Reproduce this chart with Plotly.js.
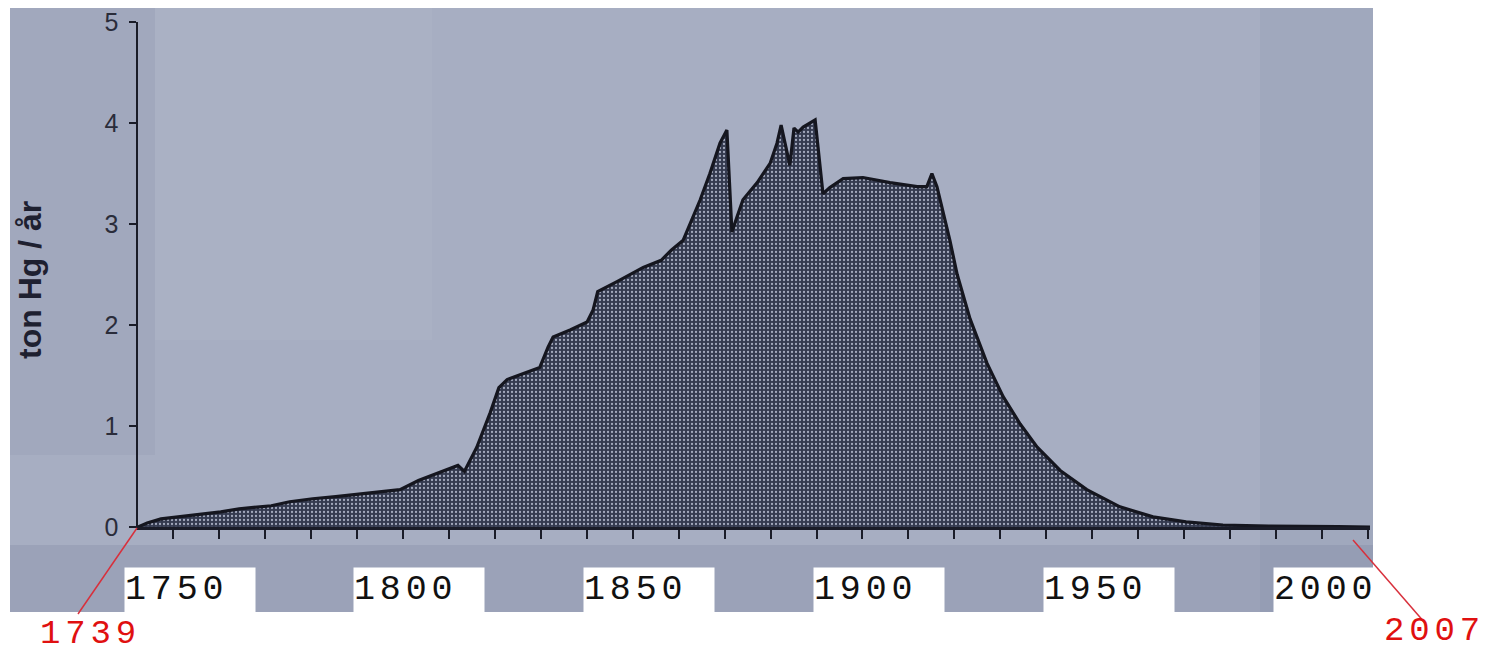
<!DOCTYPE html>
<html>
<head>
<meta charset="utf-8">
<script src="https://cdn.plot.ly/plotly-3.0.1.min.js"></script>
<style>
html,body{margin:0;padding:0;background:#ffffff;}
#chart{width:1493px;height:654px;}
</style>
</head>
<body>
<div id="chart"></div>
<script>
// ---- data ----
const years = [1739, 1741, 1744, 1748, 1752, 1757, 1761, 1765, 1768, 1772, 1777, 1782, 1788, 1792, 1796,
  1800, 1804.7, 1808.6, 1810, 1812.7, 1815.6, 1817.5, 1819.3, 1823, 1826.4, 1828.2, 1829.3, 1833, 1836.7,
  1838, 1839, 1843.2, 1848.9, 1852.8, 1855, 1857.6, 1859.1, 1861.3, 1863.4, 1865.6, 1867.1, 1868.2,
  1869.3, 1870.6, 1873.7, 1876.5, 1878, 1878.9, 1880.8, 1881.7, 1882.6, 1883.7, 1886.3, 1888, 1889.5,
  1892.4, 1896.7, 1898.9, 1902.6, 1908.5, 1910.6, 1911.7, 1912.8, 1915.6, 1917.2, 1920, 1923.7, 1927.2,
  1930.9, 1934.6, 1939.6, 1945.4, 1952.6, 1959.8, 1967, 1975, 1985, 2000, 2007];
const tonHg = [0, 0.04, 0.08, 0.10, 0.12, 0.15, 0.18, 0.20, 0.21, 0.25, 0.28, 0.30, 0.33, 0.35, 0.37,
  0.46, 0.54, 0.61, 0.55, 0.79, 1.13, 1.38, 1.46, 1.52, 1.58, 1.78, 1.88, 1.95, 2.03,
  2.15, 2.33, 2.43, 2.57, 2.64, 2.74, 2.84, 3.01, 3.24, 3.50, 3.80, 3.93, 2.92,
  3.07, 3.24, 3.41, 3.60, 3.80, 3.98, 3.58, 3.95, 3.91, 3.96, 4.03, 3.30, 3.36,
  3.45, 3.46, 3.44, 3.41, 3.37, 3.37, 3.50, 3.37, 2.84, 2.50, 2.06, 1.62, 1.29,
  1.02, 0.79, 0.56, 0.37, 0.20, 0.10, 0.05, 0.02, 0.01, 0.005, 0];
const yTickVals = [0, 1, 2, 3, 4, 5];
const yTickText = ['0', '1', '2', '3', '4', '5'];
const decadeLabels = ['1750', '1800', '1850', '1900', '1950', '2000'];
const startYear = 1739;
const endYear = 2007;
const yTitle = 'ton Hg / år';

// ---- styling ----
const L = 138, W = 1232, T = 22, H = 505;
const px2x = p => (p - L) / W;
const py2y = p => (T + H - p) / H;
const pxPerYear = W / (endYear - startYear);
const sheetRight = 1373;
const spaced = s => s.split('').join('<span style="font-size:8px"> </span>');

const shapes = [
  {type:'rect', xref:'paper', yref:'paper', x0:px2x(10), x1:px2x(sheetRight), y0:py2y(612), y1:py2y(8),
   fillcolor:'#a7aec2', line:{width:0}, layer:'below'},
  {type:'rect', xref:'paper', yref:'paper', x0:px2x(10), x1:px2x(155), y0:py2y(455), y1:py2y(8),
   fillcolor:'#8e96ad', opacity:0.22, line:{width:0}, layer:'below'},
  {type:'rect', xref:'paper', yref:'paper', x0:px2x(155), x1:px2x(432), y0:py2y(340), y1:py2y(8),
   fillcolor:'#b4bacc', opacity:0.25, line:{width:0}, layer:'below'},
  {type:'rect', xref:'paper', yref:'paper', x0:px2x(10), x1:px2x(sheetRight), y0:py2y(612), y1:py2y(545),
   fillcolor:'#8089a3', opacity:0.3, line:{width:0}, layer:'below'},
  {type:'rect', xref:'paper', yref:'paper', x0:px2x(1260), x1:px2x(sheetRight), y0:py2y(612), y1:py2y(8),
   fillcolor:'#7c86a3', opacity:0.15, line:{width:0}, layer:'below'},
  {type:'line', xref:'paper', yref:'paper', x0:px2x(137), y0:py2y(528), x1:px2x(78), y1:py2y(614),
   line:{color:'#d8303c', width:1.5}},
  {type:'line', xref:'paper', yref:'paper', x0:px2x(1353), y0:py2y(540), x1:px2x(1425), y1:py2y(623),
   line:{color:'#d8303c', width:1.5}}
];

const annotations = decadeLabels.map(lab => {
  const left = L + (Number(lab) - startYear) * pxPerYear - 65;
  const w = Math.min(130, sheetRight - left);
  return {
    text: spaced(lab), xref:'x', yref:'paper', x: Number(lab), xanchor:'left', xshift:-65,
    y: py2y(590), yanchor:'middle', width:w, height:44, align:'left', valign:'middle',
    bgcolor:'#ffffff', borderpad:0, showarrow:false,
    font:{family:'Liberation Mono, Courier New, monospace', size:35, color:'#111111'}
  };
});
annotations.push({
  text: spaced(String(startYear)), xref:'paper', yref:'paper', x:px2x(88), y:py2y(634),
  xanchor:'center', yanchor:'middle', showarrow:false,
  font:{family:'Liberation Mono, Courier New, monospace', size:34, color:'#e01010'}
});
annotations.push({
  text: spaced(String(endYear)), xref:'paper', yref:'paper', x:px2x(1432), y:py2y(631),
  xanchor:'center', yanchor:'middle', showarrow:false,
  font:{family:'Liberation Mono, Courier New, monospace', size:34, color:'#e01010'}
});
annotations.push({
  text: '<b>' + yTitle + '</b>', xref:'paper', yref:'paper', x:px2x(30), y:py2y(280),
  xanchor:'center', yanchor:'middle', textangle:-90, showarrow:false,
  font:{family:'Liberation Sans, Arial, sans-serif', size:32, color:'#1e2030'}
});

const trace = {
  x: years, y: tonHg, type:'scatter', mode:'lines',
  fill:'tozeroy',
  fillcolor:'#565b6f',
  fillpattern:{shape:'.', fgcolor:'#a3a9bd', bgcolor:'#343a4f', size:4, solidity:0.25},
  line:{color:'#15161f', width:3.2, shape:'linear'},
  hoverinfo:'skip'
};

const layout = {
  width:1493, height:654,
  margin:{l:L, r:1493 - L - W, t:T, b:654 - T - H, pad:0},
  paper_bgcolor:'#ffffff', plot_bgcolor:'rgba(0,0,0,0)',
  showlegend:false,
  xaxis:{
    range:[startYear, endYear], showgrid:false, zeroline:false,
    showline:true, linecolor:'#1a1c28', linewidth:2.5,
    ticks:'outside', ticklen:9, tickwidth:2, tickcolor:'#1a1c28',
    tickmode:'linear', tick0:1746.6, dtick:10,
    showticklabels:false, fixedrange:true
  },
  yaxis:{
    range:[0, 5], showgrid:false, zeroline:false,
    showline:true, linecolor:'#1a1c28', linewidth:2.5,
    ticks:'outside', ticklen:7, tickwidth:2, tickcolor:'#1a1c28',
    tickmode:'array', tickvals:yTickVals, ticktext:yTickText,
    ticklabelstandoff:5,
    tickfont:{family:'Liberation Sans, Arial, sans-serif', size:25, color:'#2a2c3a'},
    fixedrange:true
  },
  shapes: shapes,
  annotations: annotations
};

Plotly.newPlot('chart', [trace], layout, {displayModeBar:false, staticPlot:true});
</script>
</body>
</html>
